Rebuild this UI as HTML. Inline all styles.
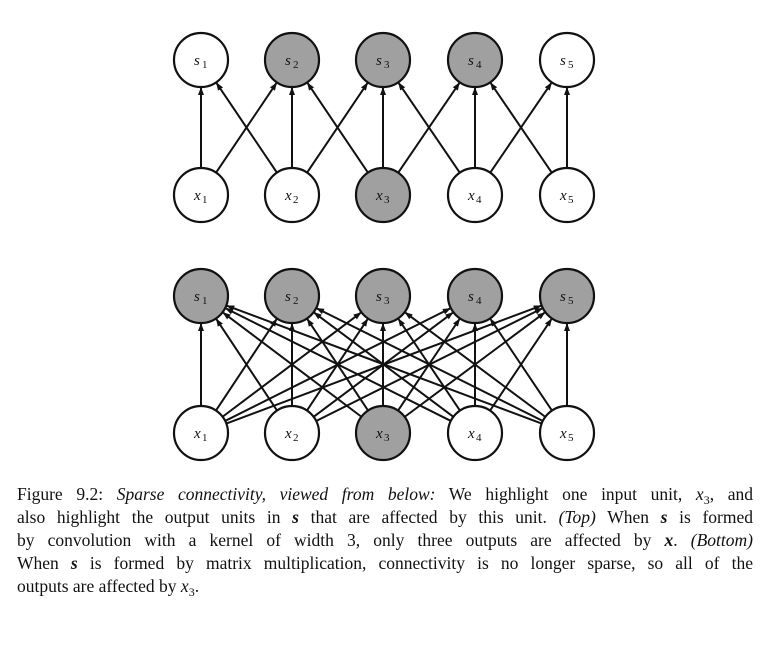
<!DOCTYPE html>
<html><head><meta charset="utf-8"><style>
body{margin:0;background:#fff;width:782px;height:661px;overflow:hidden;position:relative;font-family:"Liberation Serif",serif}
.cap{position:absolute;left:17px;top:483px;width:736px;font-size:17.5px;line-height:23px;color:#111}
.cap div{text-align:justify;text-align-last:justify;white-space:nowrap;height:23px}
.cap div.last{text-align-last:left}
i{font-style:italic}
sub{font-size:12px;vertical-align:baseline;position:relative;top:4px;line-height:0}
</style></head><body>
<svg id="g" width="782" height="470" style="position:absolute;left:0;top:0">
<defs><marker id="a" markerWidth="8" markerHeight="8" refX="7" refY="4" orient="auto" markerUnits="userSpaceOnUse"><path d="M0,1 L8,4 L0,7 z" fill="#111"/></marker></defs>
</svg>
<div class="cap">
<div>Figure 9.2: <i>Sparse connectivity, viewed from below:</i> We highlight one input unit, <i>x</i><sub>3</sub>, and</div>
<div>also highlight the output units in <b><i>s</i></b> that are affected by this unit. <i>(Top)</i> When <b><i>s</i></b> is formed</div>
<div>by convolution with a kernel of width 3, only three outputs are affected by <b><i>x</i></b>. <i>(Bottom)</i></div>
<div>When <b><i>s</i></b> is formed by matrix multiplication, connectivity is no longer sparse, so all of the</div>
<div class="last">outputs are affected by <i>x</i><sub>3</sub>.</div>
</div>
<script>
var svg=document.getElementById('g'),NS='http://www.w3.org/2000/svg';
var X=[201,292,383,475,567],R=27;
function el(t,a){var e=document.createElementNS(NS,t);for(var k in a)e.setAttribute(k,a[k]);svg.appendChild(e);return e}
function edge(x1,y1,x2,y2){var dx=x2-x1,dy=y2-y1,L=Math.sqrt(dx*dx+dy*dy);
el('line',{x1:x1+dx/L*R,y1:y1+dy/L*R,x2:x2-dx/L*(R+1),y2:y2-dy/L*(R+1),stroke:'#111','stroke-width':2,'marker-end':'url(#a)'})}
function row(y,lab,grey){for(var i=0;i<5;i++){el('circle',{cx:X[i],cy:y,r:R,fill:grey[i]?'#a0a0a0':'#fff',stroke:'#111','stroke-width':2.2});
var t=el('text',{x:X[i]-7,y:y+5,'font-family':'Liberation Serif, serif','font-style':'italic','font-size':15,fill:'#111'});t.textContent=lab;
var s=el('text',{x:X[i]+1,y:y+8,'font-family':'Liberation Serif, serif','font-size':11,fill:'#111'});s.textContent=i+1;}}
var sy1=60,xy1=195,sy2=296,xy2=433;
for(var i=0;i<5;i++)for(var j=0;j<5;j++){if(Math.abs(i-j)<=1)edge(X[i],xy1,X[j],sy1);edge(X[i],xy2,X[j],sy2);}
row(sy1,'s',[0,1,1,1,0]);row(xy1,'x',[0,0,1,0,0]);
row(sy2,'s',[1,1,1,1,1]);row(xy2,'x',[0,0,1,0,0]);
</script>
</body></html>
